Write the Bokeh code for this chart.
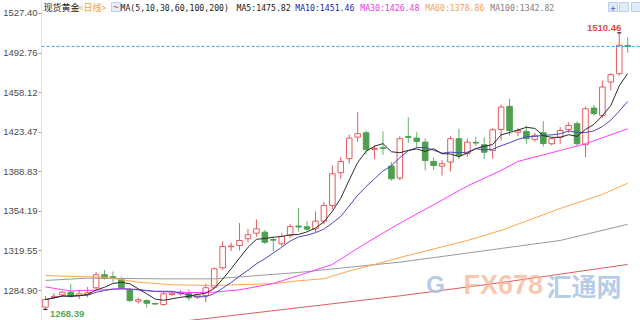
import numpy as np
import pandas as pd
from bokeh.plotting import figure
from bokeh.models import Range1d, FixedTicker, PrintfTickFormatter, Span, Label, BoxAnnotation, ColumnDataSource
from bokeh.embed import file_html
from bokeh.resources import INLINE
from bokeh.core.properties import value

# ---------------- data ----------------
title_text = "现货黄金"
period_text = "<日线>"
ma_params = "MA(5,10,30,60,100,200)"
ma_header = ["MA5:1475.82", "MA10:1451.46", "MA30:1426.48", "MA60:1378.86", "MA100:1342.82"]
y_ticks = [1284.90, 1319.55, 1354.19, 1388.83, 1423.47, 1458.12, 1492.76, 1527.40]

opens = [1270.3, 1279.0, 1281.1, 1283.4, 1280.5, 1281.5, 1287.3, 1298.7, 1297.0, 1294.3,
         1285.5, 1275.5, 1276.1, 1273.6, 1272.6, 1281.4, 1282.0, 1282.5, 1279.0, 1280.5,
         1287.8, 1304.8, 1323.2, 1324.3, 1330.2, 1335.1, 1336.0, 1329.5, 1325.8, 1333.1,
         1341.3, 1340.7, 1338.9, 1345.6, 1359.4, 1388.0, 1400.3, 1419.2, 1423.0, 1408.5,
         1409.9, 1393.8, 1383.3, 1419.6, 1418.3, 1414.8, 1397.9, 1393.8, 1397.3, 1417.8,
         1404.7, 1414.6, 1412.5, 1407.6, 1425.9, 1446.1, 1423.5, 1424.2, 1417.2, 1423.0,
         1413.4, 1419.2, 1425.9, 1430.9, 1412.5, 1444.6, 1438.2, 1467.4, 1474.7, 1499.3]
highs = [1280.0, 1282.5, 1284.5, 1290.8, 1285.5, 1288.0, 1301.0, 1303.0, 1301.5, 1297.0,
         1287.3, 1278.5, 1277.0, 1274.0, 1283.5, 1284.0, 1285.0, 1286.0, 1283.0, 1290.8,
         1305.0, 1328.0, 1327.0, 1343.9, 1339.0, 1347.1, 1338.0, 1332.0, 1335.0, 1343.0,
         1357.3, 1345.6, 1354.0, 1362.2, 1394.4, 1401.7, 1421.3, 1441.0, 1425.0, 1412.0,
         1424.2, 1397.3, 1420.0, 1436.7, 1423.5, 1418.0, 1401.5, 1399.0, 1420.0, 1426.5,
         1418.0, 1419.5, 1419.0, 1427.0, 1447.8, 1452.8, 1427.0, 1429.4, 1423.0, 1433.2,
         1419.0, 1428.0, 1432.0, 1433.0, 1446.0, 1447.5, 1468.8, 1475.0, 1510.46, 1506.5]
lows = [1268.39, 1278.0, 1280.0, 1278.5, 1277.5, 1279.0, 1286.0, 1294.5, 1292.0, 1286.5,
        1274.7, 1273.5, 1270.0, 1272.5, 1271.5, 1280.0, 1280.5, 1276.0, 1277.5, 1274.7,
        1286.0, 1303.0, 1319.5, 1320.0, 1327.2, 1332.0, 1325.5, 1319.0, 1323.5, 1331.0,
        1336.5, 1337.0, 1336.0, 1343.0, 1356.0, 1382.7, 1396.0, 1415.0, 1404.0, 1400.0,
        1403.8, 1381.0, 1381.5, 1414.0, 1410.0, 1390.0, 1390.6, 1385.6, 1389.0, 1400.0,
        1402.0, 1411.6, 1400.0, 1400.3, 1416.3, 1420.6, 1420.0, 1413.4, 1415.0, 1411.0,
        1412.0, 1413.0, 1423.0, 1411.0, 1401.7, 1438.0, 1436.0, 1460.0, 1473.0, 1493.0]
closes = [1277.0, 1279.8, 1283.4, 1279.6, 1282.0, 1283.0, 1298.7, 1295.5, 1296.0, 1287.3,
          1276.1, 1276.8, 1273.8, 1273.0, 1282.0, 1282.5, 1283.4, 1278.5, 1281.0, 1287.3,
          1303.9, 1323.4, 1323.8, 1328.7, 1333.7, 1338.9, 1327.2, 1329.0, 1332.2, 1340.9,
          1340.5, 1338.6, 1345.6, 1359.4, 1387.1, 1397.9, 1418.3, 1422.2, 1408.4, 1409.3,
          1409.3, 1382.7, 1417.8, 1418.9, 1415.4, 1398.8, 1394.4, 1395.9, 1417.8, 1403.1,
          1414.8, 1414.0, 1406.0, 1425.6, 1445.5, 1425.0, 1425.0, 1417.8, 1420.7, 1413.6,
          1417.8, 1425.0, 1429.4, 1413.4, 1444.0, 1439.7, 1463.0, 1473.8, 1499.5, 1498.6]

# long moving averages at selected bars
ma30_idx = [0, 3, 7, 9, 13, 17, 20, 23, 27, 30, 34, 38, 42, 47, 50, 54, 56, 61, 64, 69]
ma30_val = [1288.0, 1284.5, 1285.5, 1286.7, 1284.0, 1283.0, 1283.5, 1285.5, 1291.0, 1298.0,
            1307.7, 1326.5, 1343.8, 1364.0, 1376.4, 1390.0, 1397.9, 1407.5, 1413.4, 1426.48]
ma60_idx = [0, 7, 11, 15, 20, 27, 30, 33, 36, 39, 42, 50, 54, 61, 66, 69]
ma60_val = [1298.0, 1296.5, 1292.2, 1289.9, 1289.3, 1291.0, 1293.4, 1295.2, 1302.0, 1307.7,
            1313.8, 1328.7, 1337.5, 1356.7, 1369.0, 1378.86]
ma100_idx = [0, 5, 14, 20, 30, 38, 42, 50, 61, 69]
ma100_val = [1293.7, 1295.7, 1295.1, 1295.1, 1300.7, 1306.8, 1309.7, 1317.7, 1328.7, 1342.82]
ma200_idx = [0, 19, 42, 54, 69]
ma200_val = [1245.0, 1260.3, 1280.2, 1291.8, 1307.7]

# ---------------- derived table ----------------
df = pd.DataFrame({"open": opens, "high": highs, "low": lows, "close": closes})
df["i"] = np.arange(len(df))
df["up"] = df["close"] >= df["open"]
df["top"] = df[["open", "close"]].max(axis=1)
df["bottom"] = df[["open", "close"]].min(axis=1)
df["ma5"] = df["close"].rolling(5, min_periods=1).mean()
df["ma10"] = df["close"].rolling(10, min_periods=1).mean()

UP = "#e65a5c"
DOWN = "#4f9f4f"
DOWN_WICK = "#66b066"

up_src = ColumnDataSource(df[df["up"]])
dn_src = ColumnDataSource(df[~df["up"]])

p = figure(width=640, height=320, output_backend="svg", toolbar_location=None,
           x_range=Range1d(-0.47, 70.52), y_range=Range1d(1258.64, 1538.78),
           x_axis_location=None, min_border_left=38, min_border_right=0,
           min_border_top=0, min_border_bottom=0)
p.outline_line_color = None
p.grid.visible = False
p.background_fill_color = "white"
p.border_fill_color = "white"

ax = p.yaxis[0]
ax.ticker = FixedTicker(ticks=y_ticks)
ax.formatter = PrintfTickFormatter(format="%.2f")
ax.major_label_text_font = "Liberation Sans"
ax.major_label_text_font_size = "9.5px"
ax.major_label_text_color = "#4d4d4d"
ax.axis_line_color = "#dde3ec"
ax.major_tick_line_color = "#a0a8b2"
ax.major_tick_out = 3
ax.major_tick_in = 0
ax.minor_tick_line_color = None
ax.major_label_standoff = 1

# candles
p.segment(x0="i", y0="low", x1="i", y1="high", source=up_src, line_color=UP, line_width=1)
p.segment(x0="i", y0="low", x1="i", y1="high", source=dn_src, line_color=DOWN_WICK, line_width=1)
p.vbar(x="i", width=0.66, top="top", bottom="bottom", source=up_src,
       fill_color="white", line_color=UP, line_width=1)
p.vbar(x="i", width=0.66, top="top", bottom="bottom", source=dn_src,
       fill_color=DOWN, line_color=DOWN, line_width=1)

# moving averages
p.line(ma200_idx, ma200_val, line_color="#e05c5c", line_width=1)
p.line(ma100_idx, ma100_val, line_color="#9a9a9a", line_width=1)
p.line(ma60_idx, ma60_val, line_color="#ffa54a", line_width=1)
p.line(ma30_idx, ma30_val, line_color="#ff3cff", line_width=1)
p.line(df["i"], df["ma10"], line_color="#4848c4", line_width=1)
p.line(df["i"], df["ma5"], line_color="#2b2b2b", line_width=1)

# last price line
p.add_layout(Span(location=closes[-1], dimension="width", line_color="#3d9ef5",
                  line_dash="3 2", line_width=1))

# extreme markers / labels
imax = int(np.argmax(highs))
imin = int(np.argmin(lows))
p.scatter([imax], [highs[imax]], marker="dash", size=4, line_color="black", line_width=1)
p.scatter([imin], [lows[imin]], marker="dash", size=4, line_color="black", line_width=1)
p.text([imax], [highs[imax]], text=[f"{highs[imax]:.2f}"], text_align="right",
       text_baseline="alphabetic", x_offset=2, y_offset=-5,
       text_font=value("Liberation Sans"), text_font_size="9.5px",
       text_font_style="bold", text_color="#e04a4a")
p.text([imin], [lows[imin]], text=[f"{lows[imin]:.2f}"], text_align="left",
       text_baseline="top", x_offset=4.5, y_offset=2,
       text_font=value("Liberation Sans"), text_font_size="9.5px",
       text_font_style="bold", text_color="#56a856")

# ---------------- header ----------------
FL, H = 38, 320  # frame left, frame height (screen units relative to frame)


def lab(text, cx, cy, color, font, size, style="normal", align="left", alpha=1.0):
    p.add_layout(Label(x=cx - FL, y=H - cy, x_units="screen", y_units="screen", text=text,
                       text_color=color, text_font=font, text_font_size=size,
                       text_font_style=style, text_align=align, text_baseline="middle",
                       text_alpha=alpha))


lab(title_text, 40, 7, "#1a1a1a", "Noto Sans CJK SC", "9px")
lab(period_text, 75, 7, "#f0a030", "Noto Sans CJK SC", "9px")
p.add_layout(BoxAnnotation(left=108 - FL, right=117 - FL, top=H - 2, bottom=H - 11,
                           left_units="screen", right_units="screen", top_units="screen",
                           bottom_units="screen", fill_color="#e6eefc", fill_alpha=1,
                           line_color="#3b7dd8", line_width=1))
lab("~", 112.5, 6.5, "#e04a4a", "DejaVu Sans Mono", "9px", style="bold", align="center")
mono = "DejaVu Sans Mono"
lab(ma_params, 117, 7, "#1a1a1a", mono, "8.2px")
header_x = [233, 291.7, 356.7, 421.7, 486.7]
header_c = ["#1a1a1a", "#1c1ca8", "#e63ce6", "#f3a052", "#808080"]
for t, x, c in zip(ma_header, header_x, header_c):
    lab(t, x, 7, c, mono, "8.2px")

for x0 in [605, 616, 628]:
    p.add_layout(BoxAnnotation(left=x0 - FL, right=x0 + 9 - FL, top=H - 2, bottom=H - 11,
                               left_units="screen", right_units="screen", top_units="screen",
                               bottom_units="screen", fill_color="#dfeafb", fill_alpha=1,
                               line_color="#3b7dd8", line_width=1))
lab("+", 609.5, 6.5, "#3b7dd8", mono, "8px", style="bold", align="center")

# ---------------- watermark ----------------
lab("G", 432, 284, "#a9c1e3", "Liberation Sans", "24px", style="bold", align="center", alpha=0.85)
lab("FX678", 460, 284, "#f6b497", "Liberation Sans", "27px", style="bold", alpha=0.75)
lab("汇通网", 543, 284, "#a9c3e3", "Noto Sans CJK SC", "25px", style="bold", alpha=0.85)

open("out.html", "w").write(file_html(p, INLINE))
